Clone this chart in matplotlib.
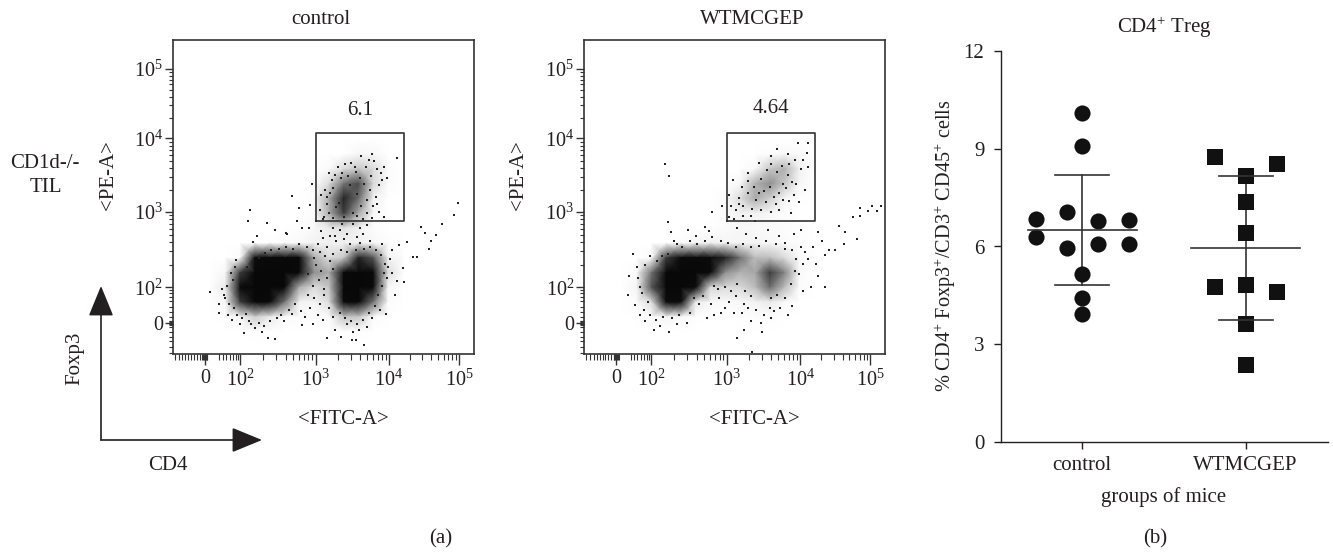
import numpy as np
import matplotlib
matplotlib.use("Agg")
import matplotlib.pyplot as plt
from matplotlib.colors import LinearSegmentedColormap

W, H = 1333, 552
plt.rcParams['font.family'] = ['Liberation Serif', 'DejaVu Serif']
plt.rcParams['mathtext.fontset'] = 'custom'
plt.rcParams['mathtext.rm'] = 'Liberation Serif'
plt.rcParams['mathtext.it'] = 'Liberation Serif'
plt.rcParams['mathtext.default'] = 'rm'
INK = '#231f20'
FS = 15

# ---------- panel (a): flow cytometry, axis values are decades of signal ----------
grid_x = [1.6, 1.8, 2.0, 2.2, 2.4, 2.6, 2.8, 3.0, 3.2, 3.4, 3.6, 3.8, 4.0, 4.2]
grid_y = [4.0, 3.8, 3.6, 3.4, 3.2, 3.0, 2.8, 2.6, 2.4, 2.2, 2.0, 1.8, 1.6, 1.4, 1.2]
density_control = [
    [0, 0, 0, 0, 0, 0, 0, 0, 0, 0, 0, 0, 0, 0],
    [0, 0, 0, 0, 0, 0, 0, 0, 0, 0, .6, .6, 0, 0],
    [0, 0, 0, 0, 0, 0, 0, 0, .3, 1.5, 2, 1.5, .2, 0],
    [0, 0, 0, 0, 0, 0, 0, 0, 1.5, 3.5, 4.2, 1.6, .2, 0],
    [0, 0, 0, 0, 0, 0, 0, .2, 2.5, 5, 3.6, 1, 0, 0],
    [0, 0, 0, 0, 0, 0, 0, .2, 2.5, 4.5, 2.5, .6, 0, 0],
    [0, 0, 0, 0, 0, 0, .1, .5, 1.2, 1.4, 1, .2, 0, 0],
    [0, 0, 0, 0, .1, .3, .5, 1, 1, 1, 1, .6, .2, 0],
    [0, 0, .3, 5.5, 8, 9, 8, 2.5, 1.5, 2, 5, 4, 1, .2],
    [0, .6, 4.5, 10, 10, 10, 7.5, 3, 2.5, 7.5, 10, 8, 1.5, .2],
    [.1, 1.2, 7, 10, 10, 9, 2.5, 1.5, 2, 9, 10, 7, .6, 0],
    [.1, .6, 4.5, 9, 8, 3.5, 1, .8, 1.5, 7, 9, 3.5, .2, 0],
    [0, .1, .7, 1.8, 1.2, .4, .3, .2, .4, 2, 2, .3, 0, 0],
    [0, 0, 0, .1, .1, 0, 0, 0, 0, .1, .1, 0, 0, 0],
    [0, 0, 0, 0, 0, 0, 0, 0, 0, 0, 0, 0, 0, 0],
]
density_treated = [
    [0, 0, 0, 0, 0, 0, 0, 0, 0, 0, 0, 0, 0, 0],
    [0, 0, 0, 0, 0, 0, 0, 0, 0, 0, .2, .5, .4, 0],
    [0, 0, 0, 0, 0, 0, 0, 0, 0, .5, 2, 2.4, 1, 0],
    [0, 0, 0, 0, 0, 0, 0, 0, .6, 2.4, 3, 2, .6, 0],
    [0, 0, 0, 0, 0, 0, 0, .2, 1.5, 2.5, 1.8, .6, .1, 0],
    [0, 0, 0, 0, 0, 0, 0, .4, 1, 1, .6, .2, 0, 0],
    [0, 0, 0, 0, 0, 0, .1, .3, .6, .5, .4, .2, .1, 0],
    [0, 0, 0, 0, .2, .7, 1, .8, .8, .8, .6, .3, .2, 0],
    [0, 0, .3, 4.5, 7, 8, 6, 5, 3.5, 2.2, 2.2, 1.5, .4, .1],
    [0, .3, 3.5, 9, 10, 10, 6.5, 3, 2.4, 2.6, 4.5, 3.2, .5, 0],
    [0, .8, 4, 10, 10, 5.5, 1.6, 1.6, 1.6, 2.2, 3.6, 2.2, .2, 0],
    [0, .2, 1.5, 6, 5.5, 1.2, .5, .3, .5, .9, 1.2, .5, 0, 0],
    [0, 0, .2, .8, .5, .1, 0, 0, .1, .2, .2, 0, 0, 0],
    [0, 0, 0, 0, 0, 0, 0, 0, 0, 0, 0, 0, 0, 0],
    [0, 0, 0, 0, 0, 0, 0, 0, 0, 0, 0, 0, 0, 0],
]
events_control = [
    (1.59,1.94),(1.71,1.78),(1.72,1.66),(1.84,1.63),(1.89,1.56),(2.0,1.51),(2.05,1.39),(2.29,1.40),(2.38,1.31),
    (2.47,1.30),(2.13,3.05),(2.11,2.90),(2.37,2.87),(2.47,2.77),(2.23,2.70),(2.18,2.61),(2.64,2.72),(2.77,2.90),
    (2.79,3.07),(2.70,3.23),(2.97,3.39),(2.95,3.11),(2.84,2.80),(2.93,2.80),(2.62,2.73),(4.95,3.14),(4.89,2.98),
    (4.73,2.85),(4.45,2.81),(4.50,2.74),(4.64,2.71),(4.58,2.63),(4.55,2.52),(4.34,2.41),(4.39,2.41),(4.25,2.61),
    (4.15,2.57),(4.05,2.50),(4.20,2.26),(4.22,2.07),(4.09,1.90),(3.97,1.64),(3.89,1.69),(4.12,2.08),(3.68,1.22),
    (3.51,1.29),(3.56,1.29),(3.18,1.32),(3.28,1.43),(3.37,1.33),(2.99,1.51),(2.83,1.49),(4.12,3.74),(3.78,3.80),
    (3.64,3.77),(3.98,3.47),(3.94,3.63),(3.87,3.38),(3.81,3.70),(3.74,3.72),(3.90,3.55),(3.85,3.60),(3.70,3.62),
    (3.77,3.50),(3.92,3.45),(3.83,3.22),(3.80,3.10),(3.72,3.00),(3.88,3.02),(3.95,2.95),(3.15,3.32),(3.10,3.25),
    (3.18,3.12),(3.08,3.05),(3.14,2.95),(3.24,3.45),(3.20,3.55),(3.32,3.62),(3.42,3.66),(3.50,3.68),(3.12,2.92),
    (3.10,2.76),(3.22,2.70),(3.35,2.78),(3.45,2.72),(3.62,2.80),(3.72,2.84),(3.05,2.58),(3.18,2.55),(3.30,2.62),
    (3.48,2.58),(3.62,2.60),(3.75,2.63),(3.92,2.58),(4.03,2.38),(4.00,2.28),(4.05,2.20),(3.98,2.12),(3.92,2.02),
    (2.95,1.72),(3.05,1.62),(3.12,1.56),(2.70,1.64),(2.60,1.55),(2.50,1.58),(2.20,1.45),(2.15,1.50),(3.60,1.42),
    (3.72,1.47),(3.78,1.58),(3.45,1.50),(3.52,1.40),(1.80,1.85),(1.75,1.98),(1.88,2.20),(1.95,2.37),(1.92,1.72),
    (1.78,1.90),(1.82,2.02),(1.85,1.78),(1.90,2.10),(1.93,2.28),(1.96,1.62),(2.02,1.58),(2.08,1.64),(2.12,1.55),
    (2.25,1.52),(2.32,1.48),(2.40,1.55),(2.55,1.62),(2.66,1.70),(2.74,1.78),(2.82,1.68),(2.88,1.60),(2.92,1.90),
    (3.00,1.85),(3.08,1.78),(3.14,1.90),(3.20,1.72),(3.26,1.60),(3.35,1.66),(3.42,1.58),(3.50,1.55),(3.58,1.50),
    (3.66,1.56),(3.74,1.65),(3.82,1.75),(3.86,1.90),(3.94,2.20),(3.96,2.32),(3.90,2.44),(3.84,2.50),(3.76,2.55),
    (3.68,2.52),(3.56,2.50),(3.45,2.48),(3.36,2.50),(3.25,2.45),(3.15,2.42),(3.08,2.48),(2.98,2.50),(2.90,2.55),
    (2.80,2.58),(2.72,2.52),(2.62,2.55),(2.52,2.52),(2.42,2.50),(2.34,2.47),(2.26,2.40),(2.18,2.35),(2.10,2.28),
    (3.02,2.30),(3.10,2.22),(3.18,2.12),(3.25,2.25),(3.06,2.10),(2.98,2.02),(3.14,1.98),(2.92,2.18),(3.00,2.40),
    (3.22,2.35),(3.12,2.66),(3.25,2.80),(3.38,2.85),(3.52,2.86),(3.58,2.68),(3.40,2.65),(3.66,2.72),(3.28,2.70),
    (3.20,3.00),(3.26,2.94),(3.30,3.08),(3.18,3.22),(3.26,3.34),(3.36,3.48),(3.46,3.50),(3.56,3.56),(3.62,3.48),
    (3.68,3.40),(3.75,3.32),(3.72,3.18),(3.64,3.10),(3.58,2.96),(3.66,2.92),(3.78,2.94),(3.85,3.12),(3.55,3.62),
    (3.38,3.55),(3.28,3.52),(3.22,3.28),(3.40,2.95),(3.52,3.00),(3.48,3.38),(3.58,3.26),(3.34,3.14),
]
events_treated = [
    (1.75,2.45),(1.70,2.15),(1.68,1.90),(1.78,1.76),(1.85,1.62),(1.92,1.55),(2.04,1.42),(2.12,1.48),(2.24,1.40),
    (2.35,1.50),(2.48,1.52),(2.18,3.66),(2.24,3.50),(2.23,2.88),(2.26,2.75),(2.30,2.62),(2.49,2.78),(2.60,2.70),
    (2.72,2.82),(2.78,2.76),(2.82,3.02),(2.95,3.10),(3.36,1.13),(3.15,1.32),(3.25,1.43),(3.35,1.55),(3.48,1.52),
    (3.50,1.40),(3.62,1.58),(3.65,1.68),(3.85,1.62),(3.90,1.75),(4.25,2.75),(4.30,2.62),(4.34,2.44),(4.40,2.50),
    (4.22,2.32),(4.12,2.38),(4.25,2.15),(4.35,2.00),(4.15,2.00),(4.05,1.95),(4.53,2.83),(4.62,2.75),(4.72,2.95),
    (4.98,3.10),(4.92,3.03),(5.05,3.03),(5.10,3.10),(4.82,3.07),(4.82,2.97),(4.78,2.65),(4.60,2.58),(4.48,2.50),
    (3.10,3.45),(3.05,3.25),(3.18,3.12),(3.22,3.36),(3.05,2.95),(3.12,2.92),(3.24,2.97),(3.40,2.90),(3.62,3.02),
    (3.72,3.05),(3.88,3.00),(4.00,3.15),(4.08,3.32),(3.95,3.40),(4.02,3.60),(4.12,3.62),(4.10,3.82),(3.98,3.95),
    (4.12,3.95),(3.70,3.87),(3.62,3.78),(3.84,3.80),(4.05,3.72),(3.45,3.68),(3.30,3.55),(3.92,3.25),(3.78,3.18),
    (3.72,3.28),(3.55,3.15),(3.48,3.05),(3.15,2.80),(3.28,2.72),(3.42,2.66),(3.58,2.78),(3.72,2.70),(3.80,2.60),
    (3.92,2.72),(4.02,2.78),(4.18,2.55),(4.08,2.48),(4.02,2.55),(3.25,1.78),(3.12,1.65),(3.00,1.72),(2.85,1.62),
    (2.75,1.58),(2.65,1.78),(2.92,1.86),(1.85,2.00),(1.80,2.28),(1.98,2.42),(1.95,1.80),(4.00,2.18),(4.05,2.32),
    (1.82,2.12),(1.88,1.92),(1.92,2.30),(1.90,1.70),(1.98,1.62),(2.06,1.56),(2.16,1.60),(2.28,1.58),(2.38,1.62),
    (2.52,1.66),(2.58,1.86),(2.70,1.88),(2.80,1.78),(2.94,1.66),(3.05,1.80),(3.14,1.88),(3.22,1.66),(3.30,1.72),
    (3.42,1.70),(3.52,1.62),(3.60,1.72),(3.74,1.72),(3.80,1.86),(3.88,2.05),(3.94,2.22),(3.96,2.38),(3.90,2.50),
    (3.80,2.52),(3.68,2.58),(3.55,2.62),(3.46,2.56),(3.35,2.55),(3.24,2.58),(3.14,2.55),(3.04,2.60),(2.94,2.62),
    (2.82,2.68),(2.72,2.62),(2.62,2.58),(2.52,2.62),(2.42,2.55),(2.34,2.58),(2.22,2.45),(2.14,2.42),(2.08,2.35),
    (3.00,2.00),(3.08,1.95),(3.16,2.05),(3.26,1.95),(3.34,1.88),(2.90,1.98),(2.84,2.02),(3.70,1.90),(3.62,1.86),
    (3.18,3.20),(3.24,3.10),(3.30,3.28),(3.36,3.06),(3.42,3.18),(3.48,3.46),(3.56,3.58),(3.62,3.66),(3.70,3.56),
    (3.76,3.64),(3.84,3.52),(3.90,3.42),(3.86,3.66),(3.94,3.72),(3.78,3.40),(3.66,3.22),(3.60,3.36),(3.82,3.34),
    (3.46,3.28),(3.38,3.36),(3.30,3.44),(3.52,3.30),(3.68,3.12),(3.86,3.16),(3.34,2.96),(3.14,3.04),(3.08,3.10),
]
gate_x = [3.02, 4.215]
gate_y = [2.89, 4.08]
percent_labels = ['6.1', '4.64']
flow_titles = ['control', 'WTMCGEP']

major_x = [1.527, 2.0, 3.02, 4.01, 4.96]
major_y = [1.52, 2.0, 3.02, 4.01, 4.95]
major_labels = ['0', '$10^{2}$', '$10^{3}$', '$10^{4}$', '$10^{5}$']
minor_x_low = [1.12, 1.17, 1.22, 1.26, 1.30, 1.34, 1.38, 1.42, 1.46, 1.49, 1.50, 1.51, 1.52, 1.54, 1.55, 1.56,
               1.72, 1.77, 1.81, 1.86, 1.90, 1.94, 1.97]
minor_y_low = [1.12, 1.20, 1.27, 1.33, 1.40, 1.47, 1.49, 1.50, 1.51, 1.53, 1.54, 1.55, 1.60, 1.67, 1.74, 1.81,
               1.87, 1.92, 1.96]
sub_decade = np.log10([2, 3, 4, 5, 6, 7, 8, 9])

# ---------- panel (b) ----------
groups = ['control', 'WTMCGEP']
control_x = [0, 0, -.285, -.285, -.095, -.095, .095, .095, .285, .285, 0, 0, 0]
control_y = [10.08, 9.08, 6.85, 6.29, 7.07, 5.96, 6.78, 6.08, 6.81, 6.08, 5.15, 4.43, 3.93]
treated_x = [.81, 1.19, 1, 1, 1, .81, 1, 1.19, 1, 1]
treated_y = [8.74, 8.54, 8.16, 7.36, 6.41, 4.76, 4.82, 4.61, 3.63, 2.38]
group_mean = [6.52, 5.94]
group_upper = [8.18, 8.17]
group_lower = [4.83, 3.74]

fig = plt.figure(figsize=(W / 100, H / 100), dpi=100, facecolor='white')


def ax_px(l, t, r, b):
    return fig.add_axes([l / W, 1 - b / H, (r - l) / W, (b - t) / H])


def ftext(x, y, s, **kw):
    kw.setdefault('ha', 'center')
    kw.setdefault('va', 'center')
    kw.setdefault('fontsize', FS)
    kw.setdefault('color', INK)
    fig.text(x / W, 1 - y / H, s, **kw)


cmap = LinearSegmentedColormap.from_list('cells', [(0, '#ffffff'), (.10, '#f2f2f2'), (.22, '#bdbdbd'),
                                                   (.40, '#555555'), (.55, '#0c0c0c'), (1, '#080808')])


def flow(left, dens, events, gate_label, label_x, label_y):
    ax = ax_px(left, 40, left + 301.3, 354)
    ax.pcolormesh(grid_x, grid_y, np.array(dens), cmap=cmap, vmin=0, vmax=10, shading='gouraud', rasterized=True)
    ex, ey = zip(*events)
    ax.scatter(ex, ey, s=1.3, marker='s', color='#222222', linewidths=0, zorder=3)
    ax.plot([gate_x[0], gate_x[1], gate_x[1], gate_x[0], gate_x[0]],
            [gate_y[0], gate_y[0], gate_y[1], gate_y[1], gate_y[0]], color='#333333', lw=1.2, zorder=4)
    ax.set_xlim(1.09, 5.16)
    ax.set_ylim(1.10, 5.34)
    for s in ax.spines.values():
        s.set_color('#333333')
        s.set_linewidth(1.2)
    ax.set_xticks(major_x, major_labels, fontsize=FS - .5, color=INK)
    ax.set_yticks(major_y, major_labels, fontsize=FS - .5, color=INK)
    mx = list(minor_x_low)
    my = list(minor_y_low)
    for a, b in zip(major_x[1:-1], major_x[2:]):
        mx += list(a + sub_decade * (b - a))
    for a, b in zip(major_y[1:-1], major_y[2:]):
        my += list(a + sub_decade * (b - a))
    ax.set_xticks(mx, minor=True)
    ax.set_yticks(my, minor=True)
    ax.tick_params(which='major', length=8, width=1, color='#333333', pad=3)
    ax.tick_params(which='minor', length=4, width=.8, color='#333333')
    ax.tick_params(axis='y', which='major', length=6, pad=1)
    ax.tick_params(axis='y', which='minor', length=3)
    ax.text(label_x, label_y, gate_label, ha='center', va='center', fontsize=FS, color=INK)
    return ax


flow(172.7, density_control, events_control, percent_labels[0], 3.62, 4.39)
flow(584, density_treated, events_treated, percent_labels[1], 3.62, 4.42)

ftext(321, 19, flow_titles[0])
ftext(752, 19, flow_titles[1])
ftext(343, 420, '<FITC-A>')
ftext(754, 420, '<FITC-A>')
ftext(108, 175, '<PE-A>', rotation=90)
ftext(519, 175, '<PE-A>', rotation=90)
ftext(45, 164, 'CD1d-/-')
ftext(46, 188, 'TIL')
ftext(75, 358, 'Foxp3', rotation=90)
ftext(168, 465, 'CD4')
ftext(441, 539, '(a)')
ftext(1155, 539, '(b)')

arrow = dict(arrowstyle='-|>,head_length=1.9,head_width=0.78', mutation_scale=10, color=INK, lw=1.2,
             shrinkA=0, shrinkB=0)
anchor = fig.axes[0]
anchor.annotate('', xy=(101, H - 286), xytext=(101, H - 440), xycoords='figure pixels',
                textcoords='figure pixels', arrowprops=arrow, annotation_clip=False)
anchor.annotate('', xy=(262, H - 440), xytext=(101, H - 440), xycoords='figure pixels',
                textcoords='figure pixels', arrowprops=arrow, annotation_clip=False)

# panel b axes
axb = ax_px(1001, 50.7, 1328, 442.3)
axb.set_xlim(-.4975, 1.504)
axb.set_ylim(0, 12)
for k in ['top', 'right']:
    axb.spines[k].set_visible(False)
for k in ['left', 'bottom']:
    axb.spines[k].set_color(INK)
    axb.spines[k].set_linewidth(1.0)
axb.set_yticks([0, 3, 6, 9, 12])
axb.set_xticks([0, 1], groups)
axb.tick_params(axis='both', length=5, width=1, color=INK, labelsize=FS, labelcolor=INK)
axb.tick_params(axis='y', pad=7)
axb.tick_params(axis='x', pad=5)
axb.scatter(control_x, control_y, s=135, marker='o', color='#111111', linewidths=0, zorder=3)
axb.scatter(treated_x, treated_y, s=145, marker='s', color='#111111', linewidths=0, zorder=3)
for i in range(2):
    axb.plot([i, i], [group_lower[i], group_upper[i]], color='#333333', lw=1.2, zorder=2)
    axb.plot([i - .335, i + .335], [group_mean[i]] * 2, color='#333333', lw=1.2, zorder=4)
    for v in (group_lower[i], group_upper[i]):
        axb.plot([i - .165, i + .165], [v, v], color='#333333', lw=1.2, zorder=4)
ftext(1164, 497, 'groups of mice')
ftext(1164, 27, 'CD4$^{+}$ Treg')
ftext(945, 246, '% CD4$^{+}$ Foxp3$^{+}$/CD3$^{+}$ CD45$^{+}$ cells', rotation=90, fontsize=FS - .4)

fig.savefig('out.png', dpi=100, facecolor='white')
